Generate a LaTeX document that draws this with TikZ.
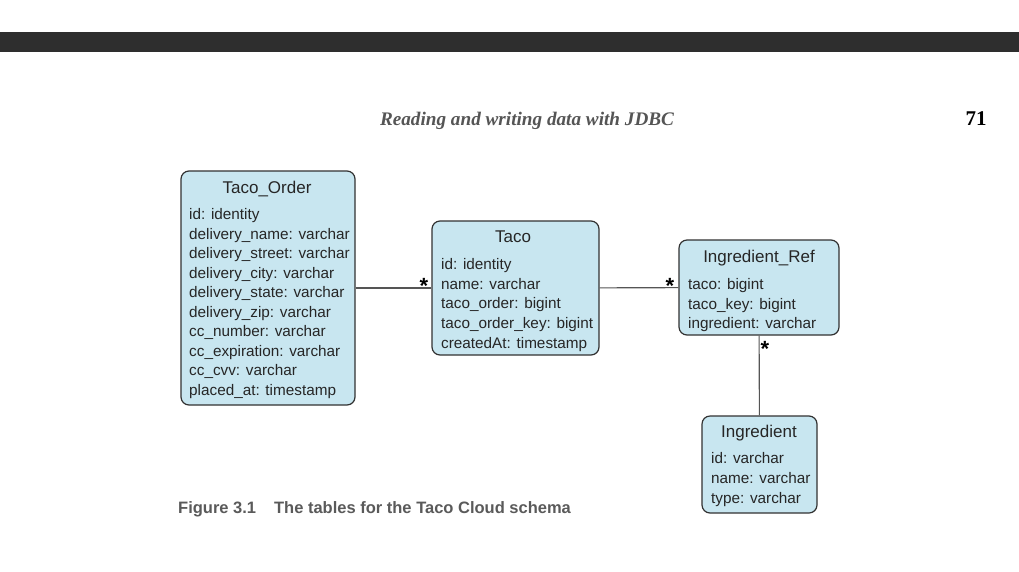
\documentclass[tikz,border=0pt]{standalone}
\usepackage{fontspec}
\setmainfont{Liberation Sans}
\newfontfamily\headserif{Liberation Serif}
\definecolor{barcol}{RGB}{46,46,46}
\definecolor{boxfill}{RGB}{200,230,240}
\definecolor{boxline}{RGB}{50,50,50}
\definecolor{linecol}{RGB}{85,85,85}
\definecolor{headgray}{RGB}{85,85,85}
\definecolor{capgray}{RGB}{90,90,90}
\begin{document}
\begin{tikzpicture}[x=1pt,y=-1pt,
  tbl/.style={draw=boxline, fill=boxfill, rounded corners=8pt, line width=1.2pt, inner sep=0pt},
  ttl/.style={font=\fontsize{17}{20}\selectfont, anchor=base, inner sep=0pt, text=black!85},
  fld/.style={font=\fontsize{15.3}{19.5}\selectfont, anchor=base west, inner sep=0pt, text=black!85},
  conn/.style={draw=linecol, line width=1.1pt},
  mult/.style={font=\bfseries\fontsize{22}{24}\selectfont, anchor=base, inner sep=0pt}]
\useasboundingbox (0,0) rectangle (1019,571);
\fill[white] (0,0) rectangle (1019,571);
\fill[barcol] (0,32) rectangle (1019,52);
% header
\node[font=\headserif\itshape\bfseries\fontsize{19.2}{24}\selectfont, text=headgray, anchor=base, inner sep=0pt] (head) at (527,125) {Reading and writing data with JDBC};
\node[font=\headserif\bfseries\fontsize{21}{24}\selectfont, text=black, anchor=base, inner sep=0pt] (page) at (976,125) {71};
% boxes
\node[tbl, minimum width=174pt, minimum height=234pt] (order) at (268,288) {};
\node[tbl, minimum width=167pt, minimum height=134pt] (taco) at (515.5,288) {};
\node[tbl, minimum width=160pt, minimum height=95pt] (iref) at (759,287.5) {};
\node[tbl, minimum width=115pt, minimum height=97pt] (ingr) at (759.5,464.5) {};
% titles
\node[ttl] (orderT) at (267,193) {Taco\_Order};
\node[ttl] (tacoT) at (513,242) {Taco};
\node[ttl] (irefT) at (759,262) {Ingredient\_Ref};
\node[ttl] (ingrT) at (759,437) {Ingredient};
% fields
\foreach \t [count=\i from 0] in {id: identity, delivery\_name: varchar, delivery\_street: varchar, delivery\_city: varchar, delivery\_state: varchar, delivery\_zip: varchar, cc\_number: varchar, cc\_expiration: varchar, cc\_cvv: varchar, placed\_at: timestamp}
  \node[fld] (orderF\i) at (189,219.5+19.5*\i) {\t};
\foreach \t [count=\i from 0] in {id: identity, name: varchar, taco\_order: bigint, taco\_order\_key: bigint, createdAt: timestamp}
  \node[fld] (tacoF\i) at (441,269.5+19.7*\i) {\t};
\foreach \t [count=\i from 0] in {taco: bigint, taco\_key: bigint, ingredient: varchar}
  \node[fld] (irefF\i) at (688,289.5+19.7*\i) {\t};
\foreach \t [count=\i from 0] in {id: varchar, name: varchar, type: varchar}
  \node[fld] (ingrF\i) at (711,463.5+19.8*\i) {\t};
% connectors
\draw[conn] (order) -- (taco);
\draw[conn] (taco) -- (iref);
\draw[conn] (iref) -- (ingr);
\node[mult] (m1) at (424,293.5) {*};
\node[mult] (m2) at (670,293.5) {*};
\node[mult] (m3) at (765,356.5) {*};
% caption
\node[font=\bfseries\fontsize{16.5}{18}\selectfont, text=capgray, anchor=base west, inner sep=0pt] (cap) at (178,513) {Figure 3.1\hspace{18pt}The tables for the Taco Cloud schema};
\end{tikzpicture}
\end{document}
